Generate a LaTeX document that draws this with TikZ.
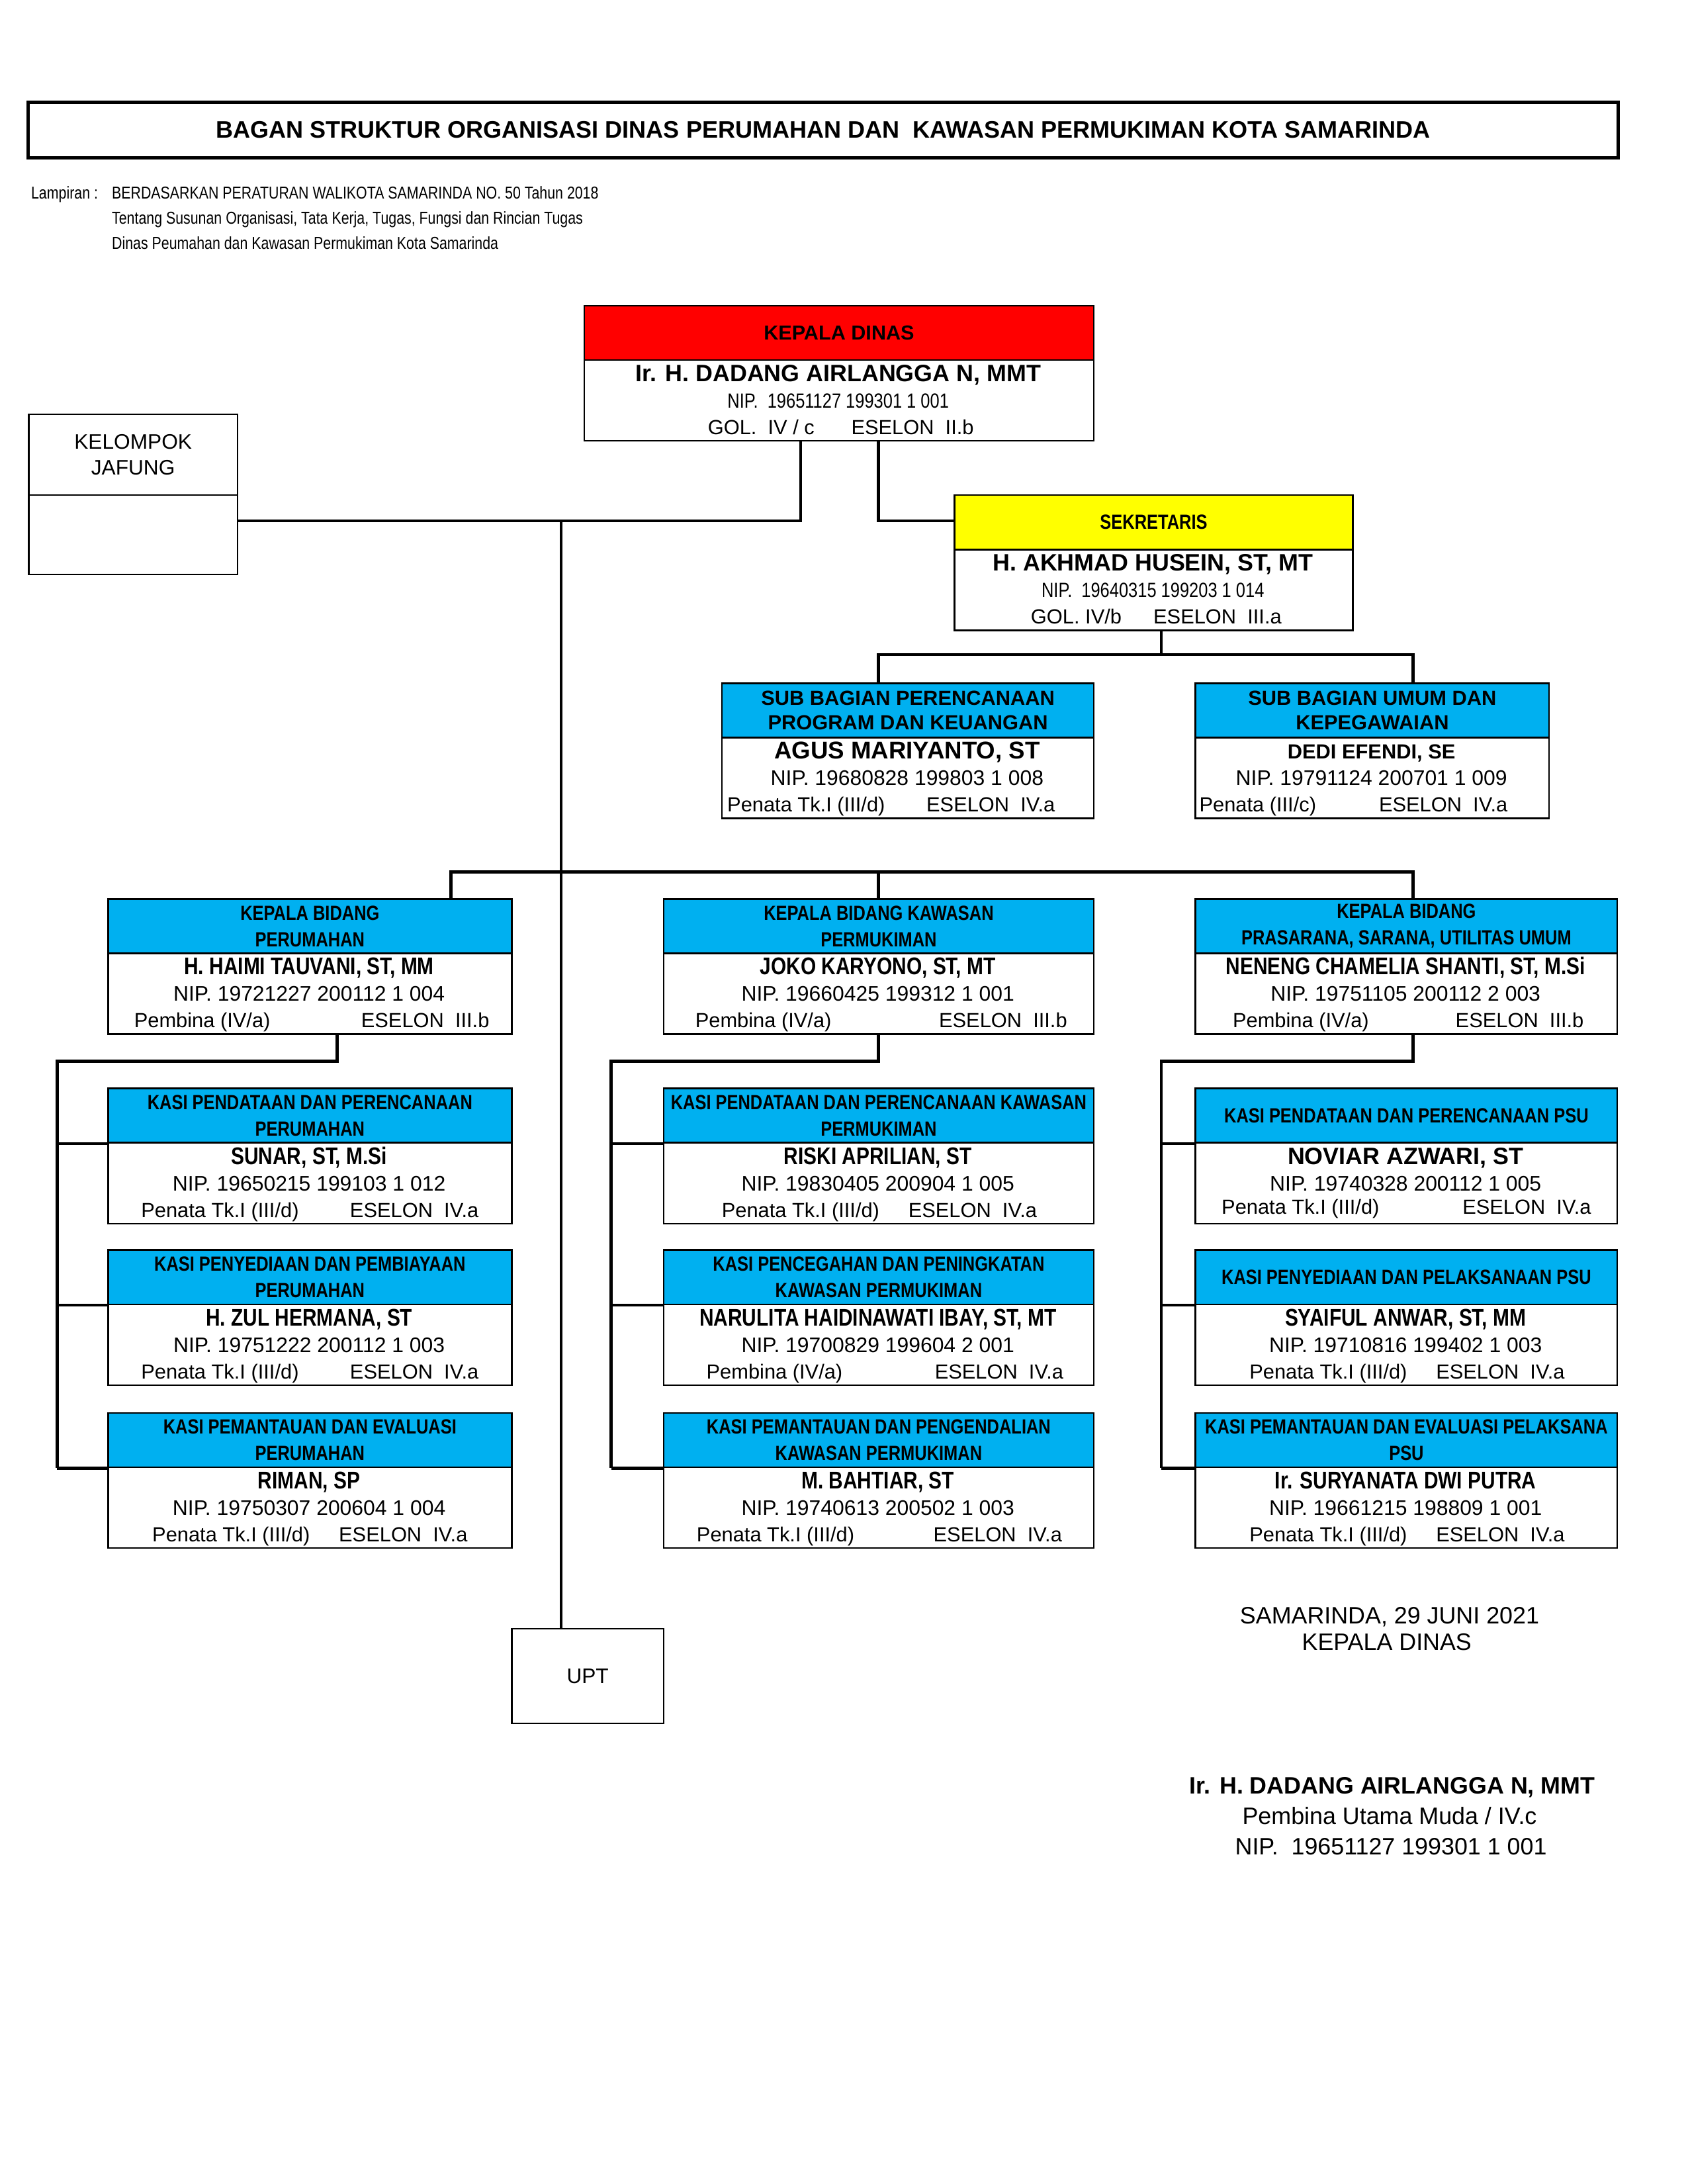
\documentclass[tikz,border=0pt]{standalone}
\usepackage{fontspec}
\setmainfont{Liberation Sans}
\newfontfamily\sempit[FakeStretch=0.82]{Liberation Sans}

\definecolor{merah}{HTML}{FF0000}
\definecolor{kuning}{HTML}{FFFF00}
\definecolor{biru}{HTML}{00B0F0}

\def\satuan{0.505}
\newcommand{\judul}{\sempit\bfseries\fontsize{7.45}{9.6}\selectfont}
\newcommand{\nama}{\sempit\bfseries\fontsize{8.75}{10}\selectfont}
\newcommand{\namatebal}{\bfseries\fontsize{8.6}{10}\selectfont}

% kotak jabatan: [font kepala]{nama node}{x kiri}{x kanan}{y atas}{warna}{jabatan}{nama}{nip}
\newcommand{\jabatan}[9][\judul]{%
  \node[kotak, anchor=north west, minimum width={(#4-#3)*\satuan pt}, minimum height={97*\satuan pt}] (#2) at (#3,#5) {};
  \node[kepala, fill=#6, anchor=north west, minimum width={(#4-#3)*\satuan pt}, font={#1}] (h#2) at (#3,#5) {#7};
  \node[anchor=base, inner sep=0pt] (n#2) at ({(#3+#4)/2},{#5+55}) {#8};
  \node[teks, anchor=base] (nip#2) at ({(#3+#4)/2},{#5+74}) {#9};
}
% baris golongan dan eselon
\newcommand{\golongan}[6]{%
  \node[ket] (g#1) at (#3,{#2+93}) {#4};
  \node[ket] (e#1) at (#5,{#2+93}) {#6};
}

\begin{document}
\begin{tikzpicture}[x=0.505pt, y=-0.505pt,
  kotak/.style={draw, line width=0.6pt, inner sep=0pt},
  kepala/.style={kotak, align=center, minimum height={39*\satuan pt}},
  teks/.style={font=\fontsize{7.65}{9}\selectfont, inner sep=0pt},
  ket/.style={anchor=base west, inner sep=0pt, font=\fontsize{7.4}{9}\selectfont},
  lamp/.style={anchor=base west, inner sep=0pt, font=\sempit\fontsize{6.25}{7.5}\selectfont},
  ttd/.style={anchor=base, inner sep=0pt, font=\fontsize{8.6}{10}\selectfont},
  garis/.style={line width=1.1pt}]
\useasboundingbox (0,0) rectangle (1212,1568.3);

% judul
\node[kotak, line width=1.2pt, anchor=north west, minimum width={1142*\satuan pt}, minimum height={40*\satuan pt}, font=\bfseries\fontsize{8.65}{10}\selectfont] (judul) at (19,72) {BAGAN STRUKTUR ORGANISASI DINAS PERUMAHAN DAN\ \ KAWASAN PERMUKIMAN KOTA SAMARINDA};

\node[lamp] (lamp) at (22,143) {Lampiran :};
\node[lamp] (lamp1) at (80,143) {BERDASARKAN PERATURAN WALIKOTA SAMARINDA NO. 50 Tahun 2018};
\node[lamp] (lamp2) at (80,161) {Tentang Susunan Organisasi, Tata Kerja, Tugas, Fungsi dan Rincian Tugas};
\node[lamp] (lamp3) at (80,179) {Dinas Peumahan dan Kawasan Permukiman Kota Samarinda};

% kelompok jafung
\node[kotak, anchor=north west, minimum width={150*\satuan pt}, minimum height={58*\satuan pt}, align=center, font=\fontsize{7.6}{9.2}\selectfont] (jafungjudul) at (20,297) {KELOMPOK\\JAFUNG};
\node[kotak, anchor=north west, minimum width={150*\satuan pt}, minimum height={57*\satuan pt}] (jafung) at (20,355) {};

% kepala dinas dan sekretariat
\jabatan[\bfseries\fontsize{7.35}{9.5}\selectfont]{kadis}{419}{785}{219}{merah}{KEPALA DINAS}{\namatebal Ir. H. DADANG AIRLANGGA N, MMT}{\sempit\fontsize{7.45}{9}\selectfont NIP.\ \ 19651127 199301 1 001}
\golongan{kadis}{219}{508}{GOL.\ \ IV / c}{611}{ESELON\ \ II.b}

\jabatan{sekre}{685}{971}{355}{kuning}{SEKRETARIS}{\namatebal H. AKHMAD HUSEIN, ST, MT}{\sempit\fontsize{7.45}{9}\selectfont NIP.\ \ 19640315 199203 1 014}
\golongan{sekre}{355}{740}{GOL. IV/b}{828}{ESELON\ \ III.a}

\jabatan[\bfseries\fontsize{7.4}{9}\selectfont]{subprog}{518}{785}{490}{biru}{SUB BAGIAN PERENCANAAN\\PROGRAM DAN KEUANGAN}{\bfseries\fontsize{8.8}{10}\selectfont AGUS MARIYANTO, ST}{NIP. 19680828 199803 1 008}
\golongan{subprog}{490}{522}{Penata Tk.I (III/d)}{665}{ESELON\ \ IV.a}

\jabatan[\bfseries\fontsize{7.4}{9}\selectfont]{subumum}{858}{1112}{490}{biru}{SUB BAGIAN UMUM DAN\\KEPEGAWAIAN}{\bfseries\fontsize{7.4}{9}\selectfont DEDI EFENDI, SE}{NIP. 19791124 200701 1 009}
\golongan{subumum}{490}{861}{Penata (III/c)}{990}{ESELON\ \ IV.a}

% kepala bidang
\jabatan{bid1}{77}{367}{645}{biru}{KEPALA BIDANG\\PERUMAHAN}{\nama H. HAIMI TAUVANI, ST, MM}{NIP. 19721227 200112 1 004}
\golongan{bid1}{645}{96}{Pembina (IV/a)}{259}{ESELON\ \ III.b}
\jabatan{bid2}{476}{785}{645}{biru}{KEPALA BIDANG KAWASAN\\PERMUKIMAN}{\nama JOKO KARYONO, ST, MT}{NIP. 19660425 199312 1 001}
\golongan{bid2}{645}{499}{Pembina (IV/a)}{674}{ESELON\ \ III.b}
\jabatan{bid3}{858}{1161}{645}{biru}{KEPALA BIDANG\\PRASARANA, SARANA, UTILITAS UMUM}{\nama NENENG CHAMELIA SHANTI, ST, M.Si}{NIP. 19751105 200112 2 003}
\golongan{bid3}{645}{885}{Pembina (IV/a)}{1045}{ESELON\ \ III.b}

% kasi bidang perumahan
\jabatan{k11}{77}{367}{781}{biru}{KASI PENDATAAN DAN PERENCANAAN\\PERUMAHAN}{\nama SUNAR, ST, M.Si}{NIP. 19650215 199103 1 012}
\golongan{k11}{781}{101}{Penata Tk.I (III/d)}{251}{ESELON\ \ IV.a}
\jabatan{k12}{77}{367}{897}{biru}{KASI PENYEDIAAN DAN PEMBIAYAAN\\PERUMAHAN}{\nama H. ZUL HERMANA, ST}{NIP. 19751222 200112 1 003}
\golongan{k12}{897}{101}{Penata Tk.I (III/d)}{251}{ESELON\ \ IV.a}
\jabatan{k13}{77}{367}{1014}{biru}{KASI PEMANTAUAN DAN EVALUASI\\PERUMAHAN}{\nama RIMAN, SP}{NIP. 19750307 200604 1 004}
\golongan{k13}{1014}{109}{Penata Tk.I (III/d)}{243}{ESELON\ \ IV.a}

% kasi bidang kawasan permukiman
\jabatan{k21}{476}{785}{781}{biru}{KASI PENDATAAN DAN PERENCANAAN KAWASAN\\PERMUKIMAN}{\nama RISKI APRILIAN, ST}{NIP. 19830405 200904 1 005}
\golongan{k21}{781}{518}{Penata Tk.I (III/d)}{652}{ESELON\ \ IV.a}
\jabatan{k22}{476}{785}{897}{biru}{KASI PENCEGAHAN DAN PENINGKATAN\\KAWASAN PERMUKIMAN}{\nama NARULITA HAIDINAWATI IBAY, ST, MT}{NIP. 19700829 199604 2 001}
\golongan{k22}{897}{507}{Pembina (IV/a)}{671}{ESELON\ \ IV.a}
\jabatan{k23}{476}{785}{1014}{biru}{KASI PEMANTAUAN DAN PENGENDALIAN\\KAWASAN PERMUKIMAN}{\nama M. BAHTIAR, ST}{NIP. 19740613 200502 1 003}
\golongan{k23}{1014}{500}{Penata Tk.I (III/d)}{670}{ESELON\ \ IV.a}

% kasi bidang psu
\jabatan{k31}{858}{1161}{781}{biru}{KASI PENDATAAN DAN PERENCANAAN PSU}{\namatebal NOVIAR AZWARI, ST}{NIP. 19740328 200112 1 005}
\golongan{k31}{779}{877}{Penata Tk.I (III/d)}{1050}{ESELON\ \ IV.a}
\jabatan{k32}{858}{1161}{897}{biru}{KASI PENYEDIAAN DAN PELAKSANAAN PSU}{\nama SYAIFUL ANWAR, ST, MM}{NIP. 19710816 199402 1 003}
\golongan{k32}{897}{897}{Penata Tk.I (III/d)}{1031}{ESELON\ \ IV.a}
\jabatan{k33}{858}{1161}{1014}{biru}{KASI PEMANTAUAN DAN EVALUASI PELAKSANA\\PSU}{\nama Ir. SURYANATA DWI PUTRA}{NIP. 19661215 198809 1 001}
\golongan{k33}{1014}{897}{Penata Tk.I (III/d)}{1031}{ESELON\ \ IV.a}

% upt
\node[kotak, anchor=north west, minimum width={109*\satuan pt}, minimum height={68*\satuan pt}, font=\fontsize{7.6}{9}\selectfont] (upt) at (367,1169) {UPT};

% garis
\coordinate (cabang) at (403,374);
\draw[garis] (575,0 |- kadis.south) -- (575,374) -- (jafung.east |- cabang);
\draw[garis] (631,0 |- kadis.south) -- (631,374) -- (hsekre.west |- cabang);
\draw[garis, line width=0.9pt] (cabang) -- (cabang |- upt.north);
\draw[garis] (834,0 |- sekre.south) -- (834,470);
\draw[garis] (631,0 |- hsubprog.north) -- (631,470) -- (1015,470) -- (1015,0 |- hsubumum.north);
\draw[garis] (324,0 |- hbid1.north) -- (324,626) -- (1015,626) -- (1015,0 |- hbid3.north);
\draw[garis] (631,626) -- (631,0 |- hbid2.north);
\foreach \kol/\rel/\turun in {1/41/242, 2/439/631, 3/834/1015} {
  \draw[garis] (\turun,0 |- bid\kol.south) -- (\turun,762) -- (\rel,762) -- (\rel,0 |- hk\kol3.south);
  \foreach \baris in {1,2,3}
    \draw[garis] (\rel,0 |- hk\kol\baris.south) -- (hk\kol\baris.south west);
}

% tanda tangan
\node[ttd] (tempat) at (998,1166) {SAMARINDA, 29 JUNI 2021};
\node[ttd] (jabatanttd) at (996,1185) {KEPALA DINAS};
\node[ttd, font=\namatebal] (namattd) at (1000,1288) {Ir. H. DADANG AIRLANGGA N, MMT};
\node[ttd] (pangkatttd) at (998,1310) {Pembina Utama Muda / IV.c};
\node[ttd] (nipttd) at (999,1332) {NIP.\ \ 19651127 199301 1 001};
\end{tikzpicture}
\end{document}
